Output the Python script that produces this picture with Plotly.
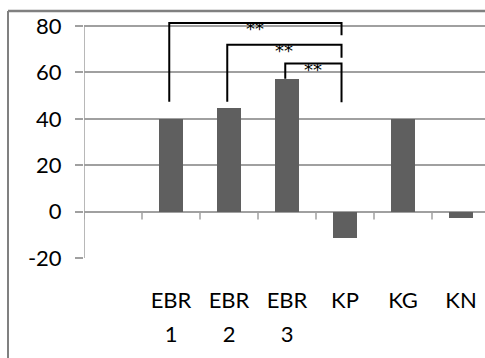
import plotly.graph_objects as go

# ---- data ----
categories = ["EBR 1", "EBR 2", "EBR 3", "KP", "KG", "KN"]
label_line1 = ["EBR", "EBR", "EBR", "KP", "KG", "KN"]
label_line2 = ["1", "2", "3", "", "", ""]
values = [40, 44.7, 57.2, -11.2, 40, -2.6]
y_ticks = [-20, 0, 20, 40, 60, 80]
y_tick_labels = ["-20", "0", "20", "40", "60", "80"]

# significance brackets: from category -> to category
bracket_from = ["EBR 1", "EBR 2", "EBR 3"]
bracket_to = ["KP", "KP", "KP"]
bracket_top = [81.3, 71.9, 63.8]
bracket_left_bottom = [47.4, 47.4, 57.3]
bracket_right_bottom = [76.0, 66.3, 47.1]
bracket_labels = ["**", "**", "**"]

# ---- styles ----
FONT = "Lato"
GRID = "#a0a0a0"
BAR = "#5f5f5f"
BORDER = "#808080"

cat_order = [" "] + categories  # leading empty category slot
W, H = 485, 358
ML, MR, MT, MB = 84, 0, 11, 100
pw = W - ML - MR
ph = H - MT - MB
xrange_ = [-0.5, -0.5 + pw / 58.0]
yrange_ = [-20, -20 + ph / 2.32]

fig = go.Figure()
fig.add_trace(go.Bar(x=categories, y=values, marker=dict(color=BAR, line=dict(width=0)),
                     width=0.4, showlegend=False, hoverinfo="skip"))
# invisible carrier trace for the second line of category labels
fig.add_trace(go.Scatter(x=categories, y=[None] * len(categories), xaxis="x2", yaxis="y",
                         mode="markers", showlegend=False, hoverinfo="skip"))

shapes = []
# y axis line
shapes.append(dict(type="line", xref="x", yref="y", x0=-0.5, x1=-0.5, y0=y_ticks[0], y1=y_ticks[-1],
                   line=dict(color=GRID, width=1.5)))
# category tick marks on the zero line
for k in range(len(cat_order)):
    shapes.append(dict(type="line", xref="x", yref="y", ysizemode="pixel", yanchor=0,
                       x0=k - 0.5, x1=k - 0.5, y0=0, y1=-8, line=dict(color=GRID, width=1.5)))
# brackets
annotations = []
for f, t, top, lb, rb, lab in zip(bracket_from, bracket_to, bracket_top, bracket_left_bottom,
                                  bracket_right_bottom, bracket_labels):
    xl = cat_order.index(f) - 0.03
    xr = cat_order.index(t) - 0.06
    shapes.append(dict(type="path", xref="x", yref="y",
                       path=f"M {xl},{lb} L {xl},{top} L {xr},{top} L {xr},{rb}",
                       line=dict(color="black", width=2)))
    annotations.append(dict(x=(xl + xr) / 2, y=top, xref="x", yref="y", text=lab, showarrow=False,
                            yanchor="middle", yshift=-6,
                            font=dict(family="DejaVu Sans", size=18, color="black")))
# outer chart border (top edge at the top of the plotting area, left edge at x = 8 px)
bx = (8 - ML) / pw
shapes.append(dict(type="line", xref="paper", yref="paper", x0=bx, x1=1.05, y0=1, y1=1,
                   layer="below", line=dict(color=BORDER, width=2.5)))
shapes.append(dict(type="line", xref="paper", yref="paper", x0=bx, x1=bx, y0=1, y1=-0.5,
                   layer="below", line=dict(color=BORDER, width=2)))

fig.update_layout(
    width=W, height=H, margin=dict(l=ML, r=MR, t=MT, b=MB, pad=0),
    paper_bgcolor="white", plot_bgcolor="rgba(0,0,0,0)",
    font=dict(family=FONT, size=22, color="black"),
    shapes=shapes, annotations=annotations, bargap=0, hovermode=False,
    xaxis=dict(type="category", categoryorder="array", categoryarray=cat_order,
               tickmode="array", tickvals=categories, ticktext=label_line1,
               range=xrange_, showgrid=False, showline=False, zeroline=False, automargin=False,
               ticks="", ticklabelstandoff=27, tickfont=dict(family=FONT, size=22)),
    xaxis2=dict(type="category", categoryorder="array", categoryarray=cat_order,
                tickmode="array", tickvals=categories, ticktext=label_line2,
                overlaying="x", anchor="y", side="bottom",
                range=xrange_, showgrid=False, showline=False, zeroline=False, automargin=False,
                ticks="", ticklabelstandoff=61, tickfont=dict(family=FONT, size=22)),
    yaxis=dict(range=yrange_, tickvals=y_ticks, ticktext=y_tick_labels, showgrid=True,
               gridcolor=GRID, gridwidth=1.5, zeroline=True, zerolinecolor=GRID, zerolinewidth=1.5,
               showline=False, ticks="outside", ticklen=8, tickcolor=GRID, tickwidth=1.5,
               automargin=False, ticklabelstandoff=9, tickfont=dict(family=FONT, size=22)),
)

fig.write_html("out.html", config={"displayModeBar": False},
               post_script="document.body.style.margin='0';")
